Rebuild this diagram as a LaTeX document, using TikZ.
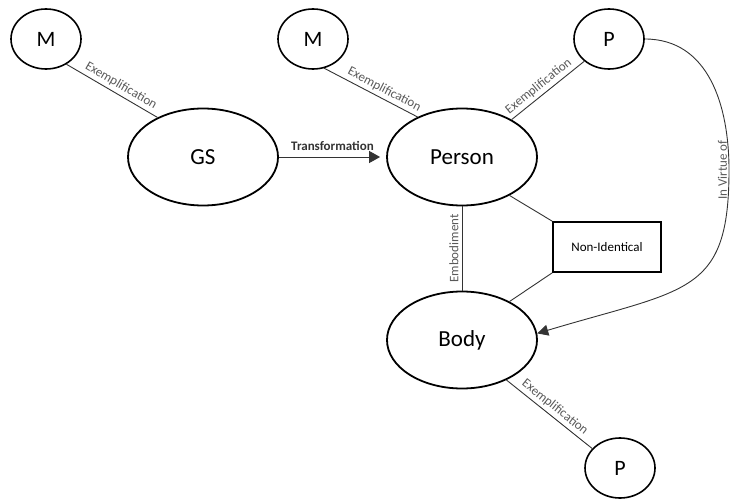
\documentclass[tikz,border=0pt]{standalone}
\usepackage{fontspec}
\setmainfont{Carlito}
\usetikzlibrary{arrows.meta, shapes.geometric}

\begin{document}
\begin{tikzpicture}[x=1pt, y=-1pt,
	bignode/.style={draw, ellipse, line width=1.8pt, minimum width=150pt, minimum height=97pt, font=\fontsize{23}{23}\selectfont},
	smallnode/.style={draw, ellipse, line width=1.6pt, minimum width=70pt, minimum height=60pt, font=\fontsize{22}{22}\selectfont},
	boxnode/.style={draw, rectangle, line width=1.8pt, minimum width=108pt, minimum height=50pt, font=\fontsize{13}{13}\selectfont},
	link/.style={draw=linkgray, line width=0.9pt},
	linklabel/.style={font=\fontsize{13}{13}\selectfont, text=labelgray, inner sep=3pt}]

	% Define colors
	\definecolor{linkgray}{rgb}{0.2, 0.2, 0.2}
	\definecolor{labelgray}{rgb}{0.35, 0.35, 0.35}

	% Fix the canvas
	\useasboundingbox (0,0) rectangle (730,500);

	% Draw the nodes
	\node[smallnode] (m1) at (46,39) {M};
	\node[smallnode] (m2) at (313,39) {M};
	\node[smallnode] (p1) at (609,39) {P};
	\node[bignode] (gs) at (203,157) {GS};
	\node[bignode] (person) at (462,157) {Person};
	\node[bignode] (body) at (462,340) {Body};
	\node[boxnode] (nonid) at (607,247) {Non-Identical};
	\node[smallnode] (p2) at (620,468) {P};
	\coordinate (bend) at (729,170);

	% Draw the exemplification links
	\draw[link] (m1.-51) -- node[linklabel, pos=0.55, sloped, above] {Exemplification} (gs.139);
	\draw[link] (m2.-69) -- node[linklabel, pos=0.6, sloped, above] {Exemplification} (person.138);
	\draw[link] (person.37) -- node[linklabel, pos=0.45, sloped, above] {Exemplification} (p1.222);
	\draw[link] (body.-42) -- node[linklabel, pos=0.5, sloped, above] {Exemplification} (p2.145);

	% Draw the other links
	\draw[link, -{Triangle[length=11pt, width=12pt]}, shorten >=6pt] (gs.east) -- node[above=3pt, font=\fontsize{13}{13}\selectfont\bfseries, text=linkgray] {Transformation} (person.west);
	\draw[link] (body.north) -- node[linklabel, midway, sloped, above] {Embodiment} (person.south);
	\draw[link] (person.-39) -- (nonid.north west);
	\draw[link] (nonid.south west) -- (body.39);
	\draw[link, -{Triangle[length=11pt, width=11pt]}] (p1.east) .. controls +(64,0) and +(0,-64) .. (bend)
		node[linklabel, anchor=south, rotate=90, inner sep=1.5pt] {In Virtue of}
		.. controls +(0,125) and +(150,-45) .. (body.5);

\end{tikzpicture}
\end{document}
